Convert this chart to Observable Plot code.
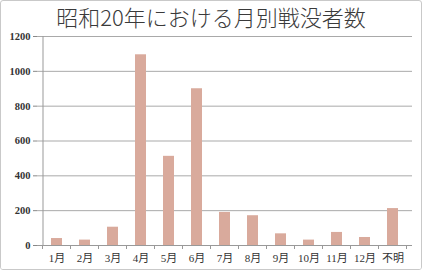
<!DOCTYPE html>
<html>
<head>
<meta charset="utf-8">
<script src="https://cdn.jsdelivr.net/npm/d3@7"></script>
<script src="https://cdn.jsdelivr.net/npm/@observablehq/plot@0.6"></script>
<style>
  html, body { margin: 0; padding: 0; background: #fff; }
  #frame {
    position: absolute; left: 0; top: 0;
    width: 422px; height: 270px; box-sizing: border-box;
    border: 1px solid #c9c9c9; border-radius: 3px; overflow: hidden;
  }
  #title {
    height: 29px; line-height: 30px; text-align: center;
    font-family: "Noto Sans CJK JP", "Noto Sans", sans-serif;
    font-weight: 300; font-size: 22px; color: #3a3a3a;
    white-space: nowrap;
  }
  #chart svg text { font-family: "Liberation Serif", "Noto Sans CJK JP", serif !important; fill: #333; }
</style>
</head>
<body>
<div id="frame">
  <div id="title">昭和20年における月別戦没者数</div>
  <div id="chart"></div>
</div>
<script>
const months = ["1月","2月","3月","4月","5月","6月","7月","8月","9月","10月","11月","12月","不明"];
const deaths = [40, 31, 105, 1095, 512, 900, 190, 171, 67, 31, 75, 46, 212];
const yTicks = [0, 200, 400, 600, 800, 1000, 1200];

const data = months.map((m, i) => ({month: m, value: deaths[i]}));

const width = 420, height = 239;
const chart = Plot.plot({
  width, height,
  marginTop: 6, marginBottom: 24, marginLeft: 36, marginRight: 9,
  style: {fontFamily: "Liberation Serif, Noto Sans CJK JP, serif", fontSize: "10px", color: "#333", background: "#fff"},
  x: {domain: months, paddingInner: 0.6, paddingOuter: 0.3, label: null},
  y: {domain: [0, 1200], label: null},
  marks: [
    Plot.ruleY(yTicks.filter(d => d > 0), {stroke: "#a9a9a9", strokeWidth: 1}),
    Plot.barY(data, {x: "month", y: "value", fill: "#d9aa9c"}),
    Plot.axisY({ticks: yTicks, tickFormat: d => String(d), tickSize: 4, tickPadding: 3, stroke: "#888", fontSize: 10.5, fontWeight: "bold", label: null}),
    Plot.axisX({tickSize: 0, tickPadding: 9, fontSize: 11, label: null}),
    Plot.ruleY([0], {stroke: "#999"})
  ]
});
document.getElementById("chart").appendChild(chart);

// axis line and category boundary ticks, from the plot's own scales
const xs = chart.scale("x");
const ys = chart.scale("y");
const svg = d3.select(chart);
const gap = xs.step - xs.bandwidth;
const bounds = months.map(m => xs.apply(m) - gap / 2);
bounds.push(xs.apply(months[months.length - 1]) + xs.bandwidth + gap / 2);
const y0 = ys.apply(0), y1 = ys.apply(1200);
const g = svg.append("g").attr("stroke", "#999").attr("stroke-width", 1);
g.append("line").attr("x1", bounds[0] + 0.5).attr("x2", bounds[0] + 0.5).attr("y1", y1).attr("y2", y0);
bounds.forEach(b => {
  g.append("line").attr("x1", b).attr("x2", b).attr("y1", y0).attr("y2", y0 + 4);
});
</script>
</body>
</html>
